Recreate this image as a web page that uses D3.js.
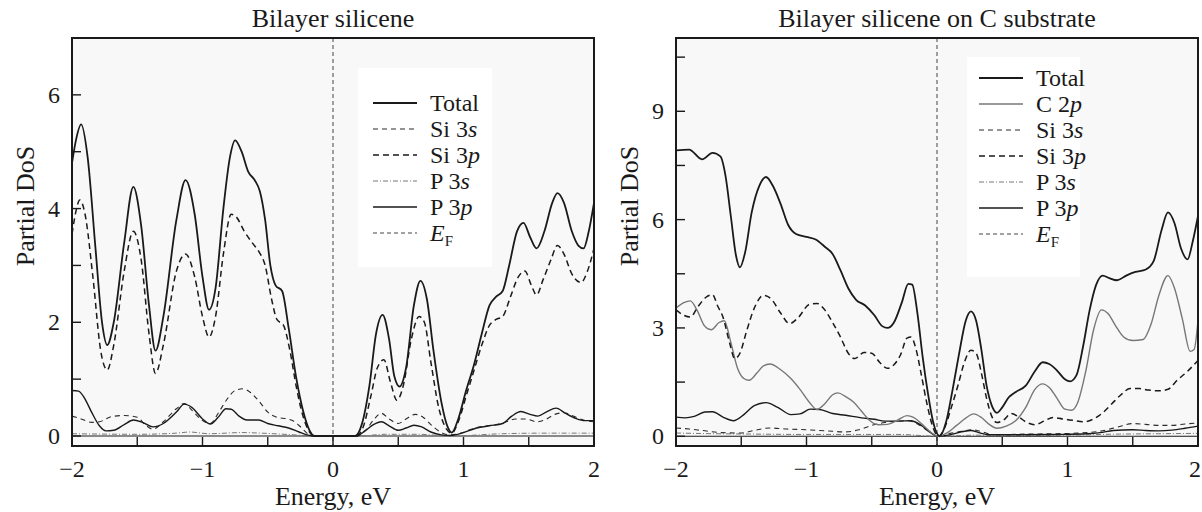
<!DOCTYPE html>
<html lang="en">
<head>
<meta charset="UTF-8">
<title>Partial DoS</title>
<script src="https://d3js.org/d3.v7.min.js"></script>
<style>
    body { margin: 0; background: #fff; }
    svg text { font-family: "Liberation Serif", "Times New Roman", serif; fill: #1a1a1a; }
    .frame { fill: #f8f8f8; stroke: #1a1a1a; stroke-width: 2px; }
    .tick-line { stroke: #1a1a1a; stroke-width: 1.4px; }
    .zero-line { stroke: #1a1a1a; stroke-width: 1.2px; }
    .curve { fill: none; }
</style>
</head>
<body>
<div id="chart"></div>
<script>
// ---- data: [energy (eV), partial DoS] ----
const leftTotal = [[-2.0,4.8],[-1.97,5.2],[-1.93,5.48],[-1.88,4.9],[-1.82,3.3],[-1.77,2.0],[-1.73,1.6],[-1.68,2.0],[-1.6,3.4],[-1.53,4.38],[-1.47,3.7],[-1.41,2.3],[-1.36,1.5],[-1.3,2.1],[-1.2,3.8],[-1.13,4.5],[-1.06,3.9],[-1.0,2.8],[-0.95,2.22],[-0.9,2.6],[-0.84,4.0],[-0.79,4.9],[-0.75,5.2],[-0.7,5.0],[-0.65,4.65],[-0.6,4.5],[-0.56,4.3],[-0.52,3.8],[-0.48,3.0],[-0.44,2.65],[-0.39,2.55],[-0.34,1.9],[-0.28,1.0],[-0.23,0.45],[-0.18,0.1],[-0.14,0.0],[0.17,0.0],[0.22,0.2],[0.28,0.9],[0.33,1.8],[0.38,2.13],[0.43,1.7],[0.47,1.05],[0.51,0.87],[0.56,1.2],[0.62,2.3],[0.67,2.73],[0.72,2.4],[0.77,1.5],[0.83,0.6],[0.88,0.15],[0.91,0.06],[0.96,0.3],[1.02,0.8],[1.08,1.25],[1.14,1.8],[1.2,2.3],[1.25,2.45],[1.3,2.55],[1.35,3.0],[1.41,3.6],[1.46,3.75],[1.51,3.5],[1.56,3.3],[1.62,3.6],[1.68,4.1],[1.72,4.27],[1.77,4.1],[1.83,3.6],[1.88,3.35],[1.92,3.3],[1.96,3.6],[2.0,4.1]];
const leftSi3p = [[-2.0,3.55],[-1.97,3.95],[-1.94,4.15],[-1.9,3.9],[-1.84,2.8],[-1.78,1.5],[-1.73,1.16],[-1.68,1.6],[-1.6,2.9],[-1.53,3.6],[-1.47,3.1],[-1.41,1.8],[-1.36,1.1],[-1.3,1.6],[-1.2,2.9],[-1.13,3.2],[-1.06,2.8],[-1.0,2.1],[-0.95,1.74],[-0.9,2.1],[-0.84,3.2],[-0.78,3.9],[-0.74,3.85],[-0.68,3.6],[-0.62,3.4],[-0.57,3.25],[-0.52,3.0],[-0.47,2.4],[-0.43,2.05],[-0.38,1.95],[-0.33,1.5],[-0.28,0.85],[-0.23,0.35],[-0.18,0.07],[-0.14,0.0],[0.18,0.0],[0.23,0.15],[0.29,0.7],[0.34,1.2],[0.39,1.34],[0.44,0.95],[0.49,0.63],[0.54,0.9],[0.6,1.7],[0.66,2.1],[0.7,2.0],[0.75,1.3],[0.81,0.5],[0.87,0.12],[0.91,0.05],[0.96,0.25],[1.02,0.7],[1.08,1.15],[1.14,1.6],[1.2,1.95],[1.25,2.05],[1.3,2.1],[1.36,2.45],[1.42,2.8],[1.47,2.9],[1.52,2.65],[1.56,2.48],[1.61,2.75],[1.67,3.1],[1.72,3.35],[1.77,3.2],[1.83,2.85],[1.9,2.7],[1.95,2.9],[2.0,3.3]];
const leftSi3s = [[-2.0,0.35],[-1.93,0.3],[-1.85,0.24],[-1.79,0.25],[-1.7,0.34],[-1.6,0.36],[-1.5,0.33],[-1.44,0.2],[-1.38,0.12],[-1.3,0.25],[-1.2,0.48],[-1.14,0.57],[-1.08,0.45],[-1.0,0.27],[-0.94,0.22],[-0.88,0.4],[-0.82,0.62],[-0.75,0.8],[-0.69,0.83],[-0.63,0.76],[-0.57,0.62],[-0.5,0.42],[-0.43,0.33],[-0.35,0.3],[-0.3,0.26],[-0.24,0.14],[-0.2,0.05],[-0.16,0.0],[0.18,0.0],[0.25,0.1],[0.31,0.28],[0.37,0.4],[0.43,0.3],[0.5,0.22],[0.56,0.3],[0.63,0.38],[0.69,0.33],[0.76,0.18],[0.83,0.06],[0.9,0.02],[0.98,0.05],[1.06,0.12],[1.15,0.17],[1.25,0.2],[1.33,0.25],[1.4,0.3],[1.48,0.3],[1.56,0.25],[1.62,0.28],[1.7,0.38],[1.77,0.41],[1.84,0.35],[1.92,0.28],[2.0,0.25]];
const leftP3s = [[-2.0,0.04],[-1.5,0.03],[-1.2,0.05],[-1.1,0.07],[-0.95,0.04],[-0.7,0.06],[-0.55,0.05],[-0.3,0.02],[-0.15,0.0],[0.2,0.0],[0.4,0.03],[0.65,0.03],[0.9,0.0],[1.3,0.04],[1.6,0.05],[2.0,0.05]];
const leftP3p = [[-2.0,0.8],[-1.95,0.79],[-1.9,0.65],[-1.85,0.42],[-1.79,0.18],[-1.74,0.09],[-1.68,0.1],[-1.6,0.2],[-1.53,0.28],[-1.46,0.24],[-1.38,0.16],[-1.3,0.22],[-1.2,0.42],[-1.14,0.56],[-1.08,0.5],[-1.0,0.3],[-0.94,0.21],[-0.88,0.33],[-0.82,0.48],[-0.78,0.47],[-0.72,0.35],[-0.66,0.28],[-0.57,0.28],[-0.5,0.22],[-0.42,0.18],[-0.34,0.14],[-0.26,0.07],[-0.2,0.02],[-0.15,0.0],[0.18,0.0],[0.25,0.1],[0.31,0.2],[0.37,0.25],[0.43,0.18],[0.5,0.1],[0.56,0.14],[0.62,0.19],[0.68,0.16],[0.75,0.07],[0.83,0.02],[0.9,0.01],[1.0,0.06],[1.1,0.14],[1.2,0.18],[1.3,0.22],[1.37,0.35],[1.44,0.43],[1.51,0.38],[1.57,0.35],[1.64,0.43],[1.71,0.49],[1.78,0.4],[1.86,0.31],[1.93,0.27],[2.0,0.27]];

const rightTotal = [[-2.0,7.92],[-1.9,7.94],[-1.8,7.67],[-1.72,7.85],[-1.66,7.75],[-1.62,7.2],[-1.58,6.1],[-1.54,5.0],[-1.51,4.68],[-1.47,5.1],[-1.42,6.2],[-1.36,6.95],[-1.31,7.18],[-1.26,6.95],[-1.2,6.45],[-1.14,5.85],[-1.08,5.6],[-1.0,5.52],[-0.93,5.45],[-0.86,5.25],[-0.8,5.05],[-0.74,4.6],[-0.68,4.1],[-0.62,3.78],[-0.55,3.62],[-0.48,3.35],[-0.42,3.05],[-0.38,3.0],[-0.33,3.15],[-0.27,3.7],[-0.22,4.22],[-0.19,4.2],[-0.15,3.4],[-0.11,2.2],[-0.07,1.2],[-0.03,0.4],[0.02,0.0],[0.07,0.4],[0.12,1.3],[0.17,2.3],[0.22,3.2],[0.26,3.46],[0.3,3.2],[0.34,2.4],[0.38,1.4],[0.42,0.85],[0.46,0.65],[0.5,0.8],[0.55,1.08],[0.6,1.22],[0.68,1.4],[0.75,1.8],[0.81,2.05],[0.86,2.0],[0.92,1.82],[0.98,1.58],[1.02,1.52],[1.07,1.7],[1.12,2.5],[1.17,3.5],[1.22,4.2],[1.27,4.45],[1.32,4.38],[1.38,4.32],[1.45,4.45],[1.52,4.55],[1.6,4.62],[1.66,4.85],[1.72,5.7],[1.77,6.2],[1.82,5.9],[1.87,5.2],[1.92,4.9],[1.96,5.4],[2.0,6.1]];
const rightC2p = [[-2.0,3.55],[-1.94,3.7],[-1.89,3.75],[-1.84,3.5],[-1.78,3.05],[-1.73,2.95],[-1.67,3.15],[-1.63,3.2],[-1.58,2.6],[-1.53,1.9],[-1.48,1.6],[-1.44,1.55],[-1.38,1.75],[-1.33,1.95],[-1.28,2.0],[-1.2,1.85],[-1.12,1.6],[-1.05,1.3],[-0.98,0.95],[-0.92,0.74],[-0.86,0.9],[-0.8,1.15],[-0.76,1.2],[-0.7,1.1],[-0.64,0.95],[-0.58,0.7],[-0.52,0.45],[-0.45,0.32],[-0.38,0.33],[-0.3,0.45],[-0.23,0.57],[-0.18,0.52],[-0.12,0.35],[-0.06,0.15],[0.01,0.0],[0.08,0.1],[0.15,0.3],[0.22,0.5],[0.28,0.62],[0.34,0.52],[0.4,0.33],[0.46,0.22],[0.53,0.28],[0.6,0.42],[0.68,0.8],[0.75,1.3],[0.81,1.45],[0.86,1.35],[0.92,1.05],[0.98,0.75],[1.03,0.72],[1.08,0.95],[1.14,1.8],[1.2,2.95],[1.26,3.5],[1.31,3.4],[1.37,3.05],[1.43,2.75],[1.5,2.65],[1.58,2.68],[1.64,3.1],[1.7,3.9],[1.77,4.45],[1.82,4.1],[1.88,3.25],[1.94,2.35],[1.97,2.4],[2.0,3.2]];
const rightSi3p = [[-2.0,3.5],[-1.94,3.35],[-1.89,3.3],[-1.83,3.6],[-1.77,3.85],[-1.72,3.92],[-1.68,3.6],[-1.64,3.3],[-1.59,2.6],[-1.55,2.15],[-1.51,2.3],[-1.46,2.9],[-1.4,3.55],[-1.33,3.9],[-1.27,3.8],[-1.2,3.42],[-1.13,3.12],[-1.06,3.3],[-0.98,3.65],[-0.92,3.68],[-0.86,3.5],[-0.8,3.15],[-0.74,2.75],[-0.68,2.3],[-0.63,2.15],[-0.56,2.32],[-0.5,2.3],[-0.44,2.05],[-0.38,1.88],[-0.33,1.98],[-0.28,2.25],[-0.23,2.72],[-0.2,2.75],[-0.16,2.4],[-0.12,1.7],[-0.08,0.95],[-0.04,0.35],[0.01,0.0],[0.06,0.25],[0.11,0.8],[0.16,1.4],[0.21,2.05],[0.26,2.38],[0.3,2.3],[0.34,1.75],[0.38,1.05],[0.42,0.55],[0.46,0.38],[0.51,0.45],[0.57,0.63],[0.62,0.55],[0.68,0.4],[0.75,0.32],[0.82,0.42],[0.89,0.52],[0.96,0.48],[1.04,0.44],[1.12,0.4],[1.2,0.48],[1.27,0.65],[1.34,0.9],[1.41,1.15],[1.48,1.32],[1.55,1.32],[1.62,1.28],[1.7,1.26],[1.77,1.3],[1.84,1.55],[1.92,1.8],[2.0,2.1]];
const rightSi3s = [[-2.0,0.23],[-1.9,0.2],[-1.8,0.16],[-1.65,0.1],[-1.5,0.09],[-1.4,0.16],[-1.28,0.23],[-1.15,0.2],[-1.0,0.18],[-0.85,0.15],[-0.7,0.12],[-0.6,0.18],[-0.5,0.3],[-0.4,0.38],[-0.3,0.42],[-0.22,0.43],[-0.14,0.32],[-0.07,0.15],[0.01,0.0],[0.1,0.08],[0.19,0.14],[0.27,0.18],[0.35,0.12],[0.42,0.05],[0.55,0.05],[0.7,0.06],[0.9,0.07],[1.1,0.09],[1.25,0.14],[1.38,0.25],[1.5,0.35],[1.6,0.33],[1.7,0.3],[1.8,0.3],[1.9,0.34],[2.0,0.37]];
const rightP3s = [[-2.0,0.09],[-1.7,0.07],[-1.4,0.06],[-1.0,0.05],[-0.6,0.05],[-0.3,0.05],[0.01,0.0],[0.3,0.03],[0.6,0.02],[1.0,0.03],[1.4,0.06],[1.7,0.07],[2.0,0.08]];
const rightP3p = [[-2.0,0.53],[-1.93,0.51],[-1.86,0.55],[-1.78,0.67],[-1.72,0.68],[-1.64,0.53],[-1.56,0.43],[-1.48,0.6],[-1.4,0.85],[-1.31,0.93],[-1.22,0.8],[-1.12,0.6],[-1.05,0.62],[-0.97,0.75],[-0.9,0.74],[-0.8,0.63],[-0.7,0.58],[-0.58,0.51],[-0.48,0.47],[-0.4,0.42],[-0.3,0.42],[-0.2,0.43],[-0.12,0.3],[-0.05,0.1],[0.01,0.0],[0.1,0.04],[0.2,0.13],[0.26,0.16],[0.32,0.1],[0.4,0.04],[0.6,0.04],[0.9,0.05],[1.15,0.07],[1.25,0.1],[1.35,0.16],[1.5,0.18],[1.6,0.16],[1.7,0.15],[1.8,0.17],[1.9,0.22],[2.0,0.28]];

// ticks
const xMajor = [-2, -1, 0, 1, 2];
const xMinor = [-1.5, -0.5, 0.5, 1.5];
const leftYMajor = [0, 2, 4, 6];
const leftYMinor = [1, 3, 5];
const rightYMajor = [0, 3, 6, 9];
const rightYMinor = [1.5, 4.5, 7.5, 10.5];

// line styles
const styles = {
    total: { stroke: "#1a1a1a", width: 1.8, dash: null },
    si3p:  { stroke: "#1a1a1a", width: 1.5, dash: "6,4" },
    si3s:  { stroke: "#2a2a2a", width: 1.1, dash: "5,4" },
    p3s:   { stroke: "#777", width: 1, dash: "5,2,1,2" },
    p3p:   { stroke: "#1a1a1a", width: 1.4, dash: null },
    c2p:   { stroke: "#777", width: 1.4, dash: null },
    ef:    { stroke: "#444", width: 1, dash: "4,3" }
};

const svg = d3.select("#chart").append("svg")
    .attr("width", 1202)
    .attr("height", 512);

const fmt = d => d < 0 ? "\u2212" + Math.abs(d) : String(d);

function drawPanel(p) {
    const x = d3.scaleLinear().domain([-2, 2]).range([p.left, p.right]);
    const y = d3.scaleLinear().domain(p.yDomain).range([446, 38]);
    const g = svg.append("g");

    g.append("rect").attr("class", "frame")
        .attr("x", p.left).attr("y", 38)
        .attr("width", p.right - p.left).attr("height", 446 - 38);

    const clipId = "clip-" + p.id;
    g.append("clipPath").attr("id", clipId).append("rect")
        .attr("x", p.left).attr("y", 38)
        .attr("width", p.right - p.left).attr("height", 446 - 38);

    // legend background
    g.append("rect")
        .attr("x", p.legBox[0]).attr("y", p.legBox[1])
        .attr("width", p.legBox[2]).attr("height", p.legBox[3])
        .attr("fill", "#fff");

    // zero line
    g.append("line").attr("class", "zero-line")
        .attr("x1", p.left).attr("x2", p.right)
        .attr("y1", y(0)).attr("y2", y(0));

    // Fermi level
    g.append("line")
        .attr("x1", x(0)).attr("x2", x(0))
        .attr("y1", 38).attr("y2", 446)
        .attr("stroke", styles.ef.stroke).attr("stroke-width", styles.ef.width)
        .attr("stroke-dasharray", styles.ef.dash);

    const line = d3.line()
        .x(d => x(d[0]))
        .y(d => y(d[1]))
        .curve(d3.curveMonotoneX);

    const curves = g.append("g").attr("clip-path", `url(#${clipId})`);
    p.series.forEach(s => {
        const st = styles[s.style];
        curves.append("path")
            .datum(s.data)
            .attr("class", "curve")
            .attr("d", line)
            .attr("stroke", st.stroke)
            .attr("stroke-width", st.width)
            .attr("stroke-dasharray", st.dash);
    });

    // ticks (inside)
    const ticks = g.append("g");
    xMajor.concat(xMinor).forEach(t => {
        ticks.append("line").attr("class", "tick-line")
            .attr("x1", x(t)).attr("x2", x(t))
            .attr("y1", 446).attr("y2", 437);
    });
    p.yMajor.concat(p.yMinor).forEach(t => {
        ticks.append("line").attr("class", "tick-line")
            .attr("x1", p.left).attr("x2", p.left + 9)
            .attr("y1", y(t)).attr("y2", y(t));
    });

    // last x label kept inside the picture when it would hit the edge
    g.selectAll(".xlab").data(xMajor).join("text")
        .attr("x", d => (d === 2 && p.clampLast) ? 1201 : x(d)).attr("y", 477)
        .attr("text-anchor", d => (d === 2 && p.clampLast) ? "end" : "middle")
        .attr("font-size", 24)
        .text(fmt);

    g.selectAll(".ylab").data(p.yMajor).join("text")
        .attr("x", p.left - 12).attr("y", d => y(d) + 8)
        .attr("text-anchor", "end")
        .attr("font-size", 24)
        .text(fmt);

    // frame on top
    g.append("rect")
        .attr("x", p.left).attr("y", 38)
        .attr("width", p.right - p.left).attr("height", 446 - 38)
        .attr("fill", "none").attr("stroke", "#1a1a1a").attr("stroke-width", 2);

    // axis labels and title
    const cx = (p.left + p.right) / 2;
    g.append("text")
        .attr("x", cx).attr("y", 505)
        .attr("text-anchor", "middle").attr("font-size", 26)
        .text("Energy, eV");
    g.append("text")
        .attr("transform", `translate(${p.left - 38},206) rotate(-90)`)
        .attr("text-anchor", "middle").attr("font-size", 26)
        .text("Partial DoS");
    g.append("text")
        .attr("x", cx).attr("y", 27)
        .attr("text-anchor", "middle").attr("font-size", 26)
        .text(p.title);

    // legend
    p.legend.forEach((e, i) => {
        const cy = p.legTop + i * 26;
        const st = styles[e.style];
        g.append("line")
            .attr("x1", p.legX).attr("x2", p.legX + 44)
            .attr("y1", cy).attr("y2", cy)
            .attr("stroke", st.stroke).attr("stroke-width", st.width)
            .attr("stroke-dasharray", st.dash);
        const t = g.append("text")
            .attr("x", p.legX + 57).attr("y", cy + 8)
            .attr("font-size", 24);
        if (e.style === "ef") {
            t.append("tspan").attr("font-style", "italic").text("E");
            t.append("tspan").attr("font-size", 15).attr("dy", 5).text("F");
        } else {
            t.append("tspan").text(e.pre);
            t.append("tspan").attr("font-style", "italic").text(e.it);
        }
    });
}

drawPanel({
    id: "left", left: 72, right: 594, yDomain: [-0.176, 7],
    yMajor: leftYMajor, yMinor: leftYMinor,
    title: "Bilayer silicene", clampLast: false,
    legBox: [358, 68, 134, 199], legX: 373, legTop: 103,
    series: [
        { data: leftP3s, style: "p3s" },
        { data: leftSi3s, style: "si3s" },
        { data: leftP3p, style: "p3p" },
        { data: leftSi3p, style: "si3p" },
        { data: leftTotal, style: "total" }
    ],
    legend: [
        { style: "total", pre: "Total", it: "" },
        { style: "si3s", pre: "Si 3", it: "s" },
        { style: "si3p", pre: "Si 3", it: "p" },
        { style: "p3s", pre: "P 3", it: "s" },
        { style: "p3p", pre: "P 3", it: "p" },
        { style: "ef" }
    ]
});

drawPanel({
    id: "right", left: 676, right: 1198, yDomain: [-0.27, 11.03],
    yMajor: rightYMajor, yMinor: rightYMinor,
    title: "Bilayer silicene on C substrate", clampLast: true,
    legBox: [967, 57, 113, 220], legX: 979, legTop: 78,
    series: [
        { data: rightP3s, style: "p3s" },
        { data: rightSi3s, style: "si3s" },
        { data: rightP3p, style: "p3p" },
        { data: rightC2p, style: "c2p" },
        { data: rightSi3p, style: "si3p" },
        { data: rightTotal, style: "total" }
    ],
    legend: [
        { style: "total", pre: "Total", it: "" },
        { style: "c2p", pre: "C 2", it: "p" },
        { style: "si3s", pre: "Si 3", it: "s" },
        { style: "si3p", pre: "Si 3", it: "p" },
        { style: "p3s", pre: "P 3", it: "s" },
        { style: "p3p", pre: "P 3", it: "p" },
        { style: "ef" }
    ]
});
</script>
</body>
</html>
